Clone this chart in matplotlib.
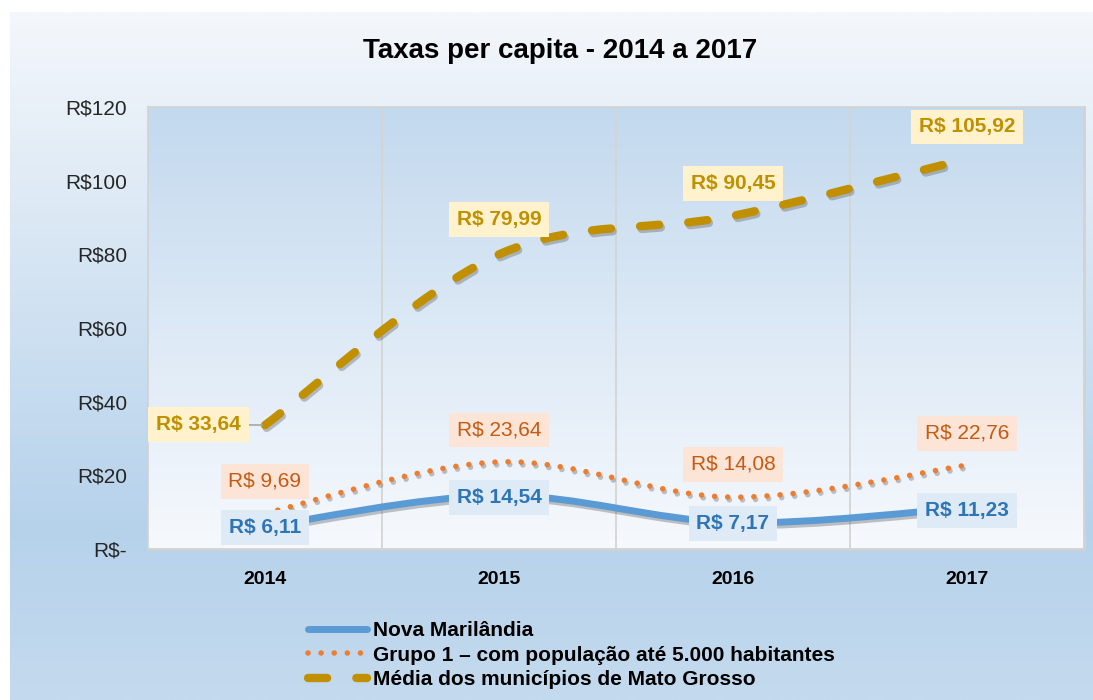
import numpy as np
import matplotlib
matplotlib.use("Agg")
import matplotlib.pyplot as plt
from matplotlib import font_manager as fm
from matplotlib.path import Path
from matplotlib.patches import PathPatch
from matplotlib.lines import Line2D
import matplotlib.patheffects as pe
from matplotlib.colors import LinearSegmentedColormap

# ---------------- data ----------------
years = ["2014", "2015", "2016", "2017"]
nova_marilandia = [6.11, 14.54, 7.17, 11.23]
grupo1 = [9.69, 23.64, 14.08, 22.76]
media_mt = [33.64, 79.99, 90.45, 105.92]
series_names = ["Nova Marilândia",
                "Grupo 1 – com população até 5.000 habitantes",
                "Média dos municípios de Mato Grosso"]
yticks = [0, 20, 40, 60, 80, 100, 120]
ytick_labels = ["R$-", "R$20", "R$40", "R$60", "R$80", "R$100", "R$120"]
title = "Taxas per capita - 2014 a 2017"

# ---------------- fonts ----------------
names = {f.name for f in fm.fontManager.ttflist}
narrow = "Liberation Sans Narrow" if "Liberation Sans Narrow" in names else "Liberation Sans"
plt.rcParams["font.family"] = [narrow, "DejaVu Sans"]

W, H = 1093, 700
fig = plt.figure(figsize=(W / 100, H / 100), dpi=100)
fig.patch.set_facecolor("white")

# outer panel gradient
bg = fig.add_axes([10 / W, 0, (W - 10) / W, (H - 12) / H], zorder=0)
cmap_out = LinearSegmentedColormap.from_list(
    "o", [(0, "#f4f7fb"), (0.75, "#b6d2eb"), (1.0, "#c4daee")])
grad = np.linspace(0, 1, 256).reshape(-1, 1)
bg.imshow(grad, aspect="auto", cmap=cmap_out, extent=[0, 1, 1, 0])
bg.set_axis_off()

# plot area
x0, y0, x1, y1 = 148, 107, 1084, 549
ax = fig.add_axes([x0 / W, (H - y1) / H, (x1 - x0) / W, (y1 - y0) / H], zorder=1)
ax.set_xlim(-0.5, 3.5)
ax.set_ylim(0, 120)
cmap_in = LinearSegmentedColormap.from_list("i", [(0, "#f6f9fd"), (1, "#c3d9ee")])
ax.imshow(np.linspace(0, 1, 256).reshape(-1, 1), aspect="auto", cmap=cmap_in,
          extent=[-0.5, 3.5, 0, 120], origin="lower", zorder=0)
for xb in [0.5, 1.5, 2.5]:
    ax.axvline(xb, color="#d4d4d4", lw=1.3, zorder=1)
for s in ax.spines.values():
    s.set_color("#d2d2d2")
    s.set_linewidth(1.2)
ax.spines["bottom"].set_linewidth(2)
ax.spines["right"].set_linewidth(2)

xs = np.arange(len(years))


def smooth_path(xv, yv):
    pts = np.column_stack([xv, yv]).astype(float)
    verts = [pts[0]]
    codes = [Path.MOVETO]
    n = len(pts)
    for i in range(n - 1):
        p0 = pts[i - 1] if i > 0 else pts[i]
        p1 = pts[i]
        p2 = pts[i + 1]
        p3 = pts[i + 2] if i + 2 < n else pts[i + 1]
        c1 = p1 + (p2 - p0) / 6.0
        c2 = p2 - (p3 - p1) / 6.0
        verts += [c1, c2, p2]
        codes += [Path.CURVE4] * 3
    return Path(verts, codes)


shadow = [pe.SimpleLineShadow(offset=(1.2, -2.0), shadow_color="#555555", alpha=0.35),
          pe.Normal()]

styles = [
    dict(color="#5b9bd5", lw=5.0, ls="-"),
    dict(color="#ed7d31", lw=4.0, ls=(0, (0.01, 2.35))),
    dict(color="#c09000", lw=6.0, ls=(0, (2.3, 3.5))),
]
for vals, st in zip([nova_marilandia, grupo1, media_mt], styles):
    patch = PathPatch(smooth_path(xs, vals), fill=False, edgecolor=st["color"],
                      lw=st["lw"], linestyle=st["ls"], capstyle="round",
                      joinstyle="round", zorder=3, path_effects=shadow)
    ax.add_patch(patch)


def fmt(v):
    return "R$ " + f"{v:.2f}".replace(".", ",")


lab_cfg = [
    (nova_marilandia, "#2e75b6", "#deebf7", "bold", [(0, -1), (0, -1.5), (0, -0.5), (0, -2)]),
    (grupo1, "#c55a11", "#fce4d6", "normal", [(0, 23), (0, 23), (0, 23.5), (0, 23)]),
    (media_mt, "#bf9000", "#fff2cc", "bold", [(-48, 0.5), (0, 25), (0, 23.5), (0, 23)]),
]
for vals, tc, fc, wt, offs in lab_cfg:
    for i, (v, off) in enumerate(zip(vals, offs)):
        kw = {}
        if off[0] != 0:
            kw["arrowprops"] = dict(arrowstyle="-", color="#a6a6a6", lw=1.2,
                                    shrinkA=0, shrinkB=2)
        ax.annotate(fmt(v), (xs[i], v), xytext=off, textcoords="offset points",
                    ha="center", va="center", fontsize=15, color=tc, fontweight=wt,
                    bbox=dict(boxstyle="square,pad=0.38", fc=fc, ec="none"),
                    zorder=5, **kw)

ax.set_xticks(xs)
ax.set_xticklabels(years, fontsize=14, fontweight="bold", color="#000000")
ax.set_yticks(yticks)
ax.set_yticklabels(ytick_labels, fontsize=15, color="#262626")
ax.tick_params(axis="x", length=0, pad=16)
ax.tick_params(axis="y", length=0, pad=15)

fig.text(560 / W, 1 - 51 / H, title, ha="center", va="center",
         fontsize=20, fontweight="bold", color="#000000")

handles = [
    Line2D([], [], color="#5b9bd5", lw=5.0, solid_capstyle="round"),
    Line2D([], [], color="#ed7d31", lw=4.0, ls=(0, (0.01, 2.35)), dash_capstyle="round"),
    Line2D([], [], color="#c09000", lw=6.0, ls=(0, (2.3, 3.5)), dash_capstyle="round"),
]
leg = fig.legend(handles, series_names, loc="upper left",
                 bbox_to_anchor=(298 / W, 1 - 611 / H), frameon=False,
                 prop=dict(size=15, weight="bold"), handlelength=2.8,
                 handletextpad=0.3, labelspacing=0.25, borderpad=0)

fig.savefig("out.png", dpi=100)
